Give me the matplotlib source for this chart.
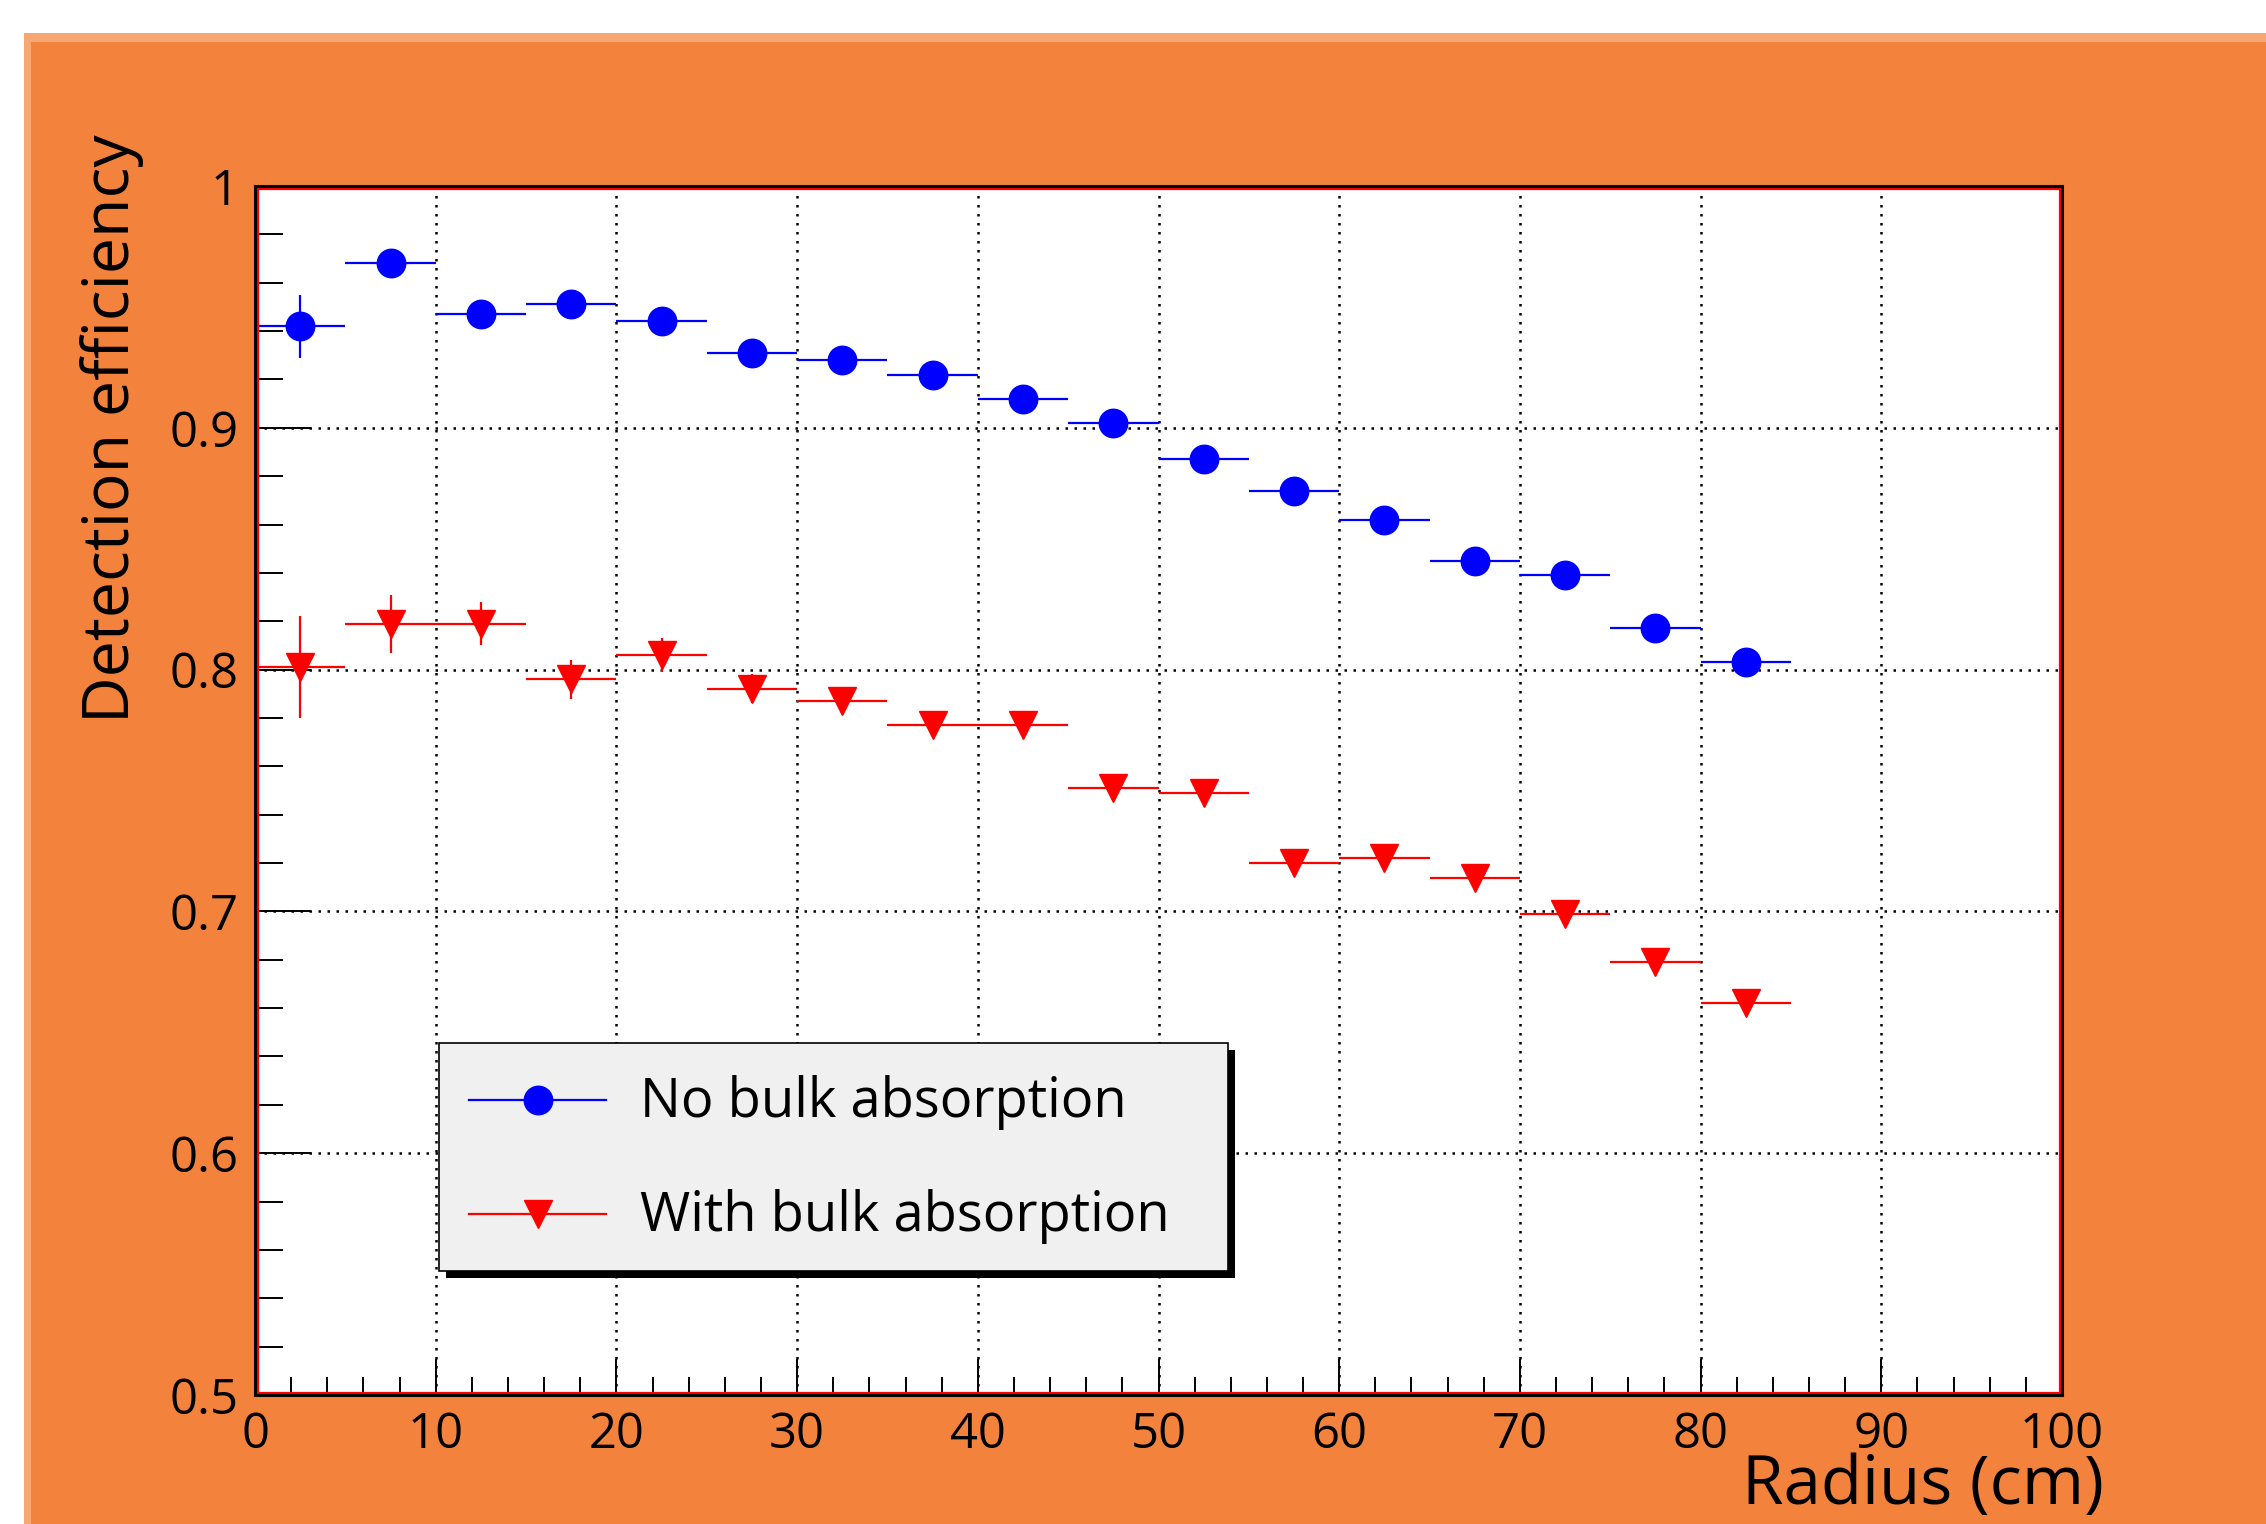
import matplotlib
matplotlib.use("Agg")
import matplotlib.pyplot as plt
from matplotlib import font_manager
from matplotlib.patches import Rectangle
from matplotlib.lines import Line2D
from matplotlib.ticker import MultipleLocator

# ---------------- data ----------------
radius_cm = [2.5, 7.5, 12.5, 17.5, 22.5, 27.5, 32.5, 37.5, 42.5,
             47.5, 52.5, 57.5, 62.5, 67.5, 72.5, 77.5, 82.5]
bin_half_width_cm = [2.5, 2.5, 2.5, 2.5, 2.5, 2.5, 2.5, 2.5, 2.5,
                     2.5, 2.5, 2.5, 2.5, 2.5, 2.5, 2.5, 2.5]
eff_no_bulk = [0.942, 0.968, 0.947, 0.951, 0.944, 0.931, 0.928, 0.922, 0.912,
               0.902, 0.887, 0.874, 0.862, 0.845, 0.839, 0.817, 0.803]
err_no_bulk = [0.013, 0.004, 0.004, 0.004, 0.004, 0.003, 0.003, 0.003, 0.003,
               0.003, 0.003, 0.003, 0.003, 0.003, 0.003, 0.003, 0.003]
eff_with_bulk = [0.801, 0.819, 0.819, 0.796, 0.806, 0.792, 0.787, 0.777, 0.777,
                 0.751, 0.749, 0.720, 0.722, 0.714, 0.699, 0.679, 0.662]
err_with_bulk = [0.021, 0.012, 0.009, 0.008, 0.007, 0.006, 0.005, 0.004, 0.004,
                 0.004, 0.004, 0.004, 0.004, 0.004, 0.004, 0.004, 0.004]
series_labels = ["No bulk absorption", "With bulk absorption"]
x_label = "Radius (cm)"
y_label = "Detection efficiency"
x_ticks = [0, 10, 20, 30, 40, 50, 60, 70, 80, 90, 100]
x_tick_labels = ["0", "10", "20", "30", "40", "50", "60", "70", "80", "90", "100"]
y_ticks = [0.5, 0.6, 0.7, 0.8, 0.9, 1.0]
y_tick_labels = ["0.5", "0.6", "0.7", "0.8", "0.9", "1"]

# ---------------- style ----------------
avail = {f.name for f in font_manager.fontManager.ttflist}
FONT = "Open Sans" if "Open Sans" in avail else "DejaVu Sans"
plt.rcParams["font.family"] = [FONT, "DejaVu Sans"]

W, H = 2266, 1524
DPI = 100
ORANGE = "#F3823D"
LIGHT = "#F6A774"
BLUE = "#0000FF"
RED = "#FF0000"

fig = plt.figure(figsize=(W / DPI, H / DPI), dpi=DPI, facecolor="white")

def fx(px):
    return px / W

def fy(py):
    return 1 - py / H

# background panels
fig.add_artist(Rectangle((fx(24), 0), 1 - fx(24), fy(33), transform=fig.transFigure,
                         facecolor=LIGHT, edgecolor="none", zorder=-20))
fig.add_artist(Rectangle((fx(31), 0), 1 - fx(31), fy(42), transform=fig.transFigure,
                         facecolor=ORANGE, edgecolor="none", zorder=-19))

# axes
L, R, T, B = 255, 2062, 186, 1395
ax = fig.add_axes([fx(L), fy(B), fx(R - L), (B - T) / H])
ax.set_facecolor("white")
ax.set_xlim(0, 100)
ax.set_ylim(0.5, 1.0)
ax.set_axisbelow(True)

ax.errorbar(radius_cm, eff_no_bulk, xerr=bin_half_width_cm, yerr=err_no_bulk,
            fmt="o", color=BLUE, ms=20.5, mec=BLUE, elinewidth=1.6, capsize=0, zorder=3)
ax.errorbar(radius_cm, eff_with_bulk, xerr=bin_half_width_cm, yerr=err_with_bulk,
            fmt="v", color=RED, ms=20.5, mec=RED, elinewidth=1.6, capsize=0, zorder=3)

ax.set_xticks(x_ticks)
ax.set_xticklabels(x_tick_labels)
ax.set_yticks(y_ticks)
ax.set_yticklabels(y_tick_labels)
ax.xaxis.set_minor_locator(MultipleLocator(2))
ax.yaxis.set_minor_locator(MultipleLocator(0.02))
ax.grid(True, which="major", color="black", linestyle=(0, (1, 2.6)), linewidth=1.8)

ax.tick_params(axis="x", which="major", direction="in", length=26, width=1.4,
               top=False, pad=11, colors="black")
ax.tick_params(axis="x", which="minor", direction="in", length=13, width=1.4, top=False)
ax.tick_params(axis="y", which="major", direction="in", length=40, width=1.4,
               right=False, pad=12, colors="black")
ax.tick_params(axis="y", which="minor", direction="in", length=20, width=1.4, right=False)

for sp in ax.spines.values():
    sp.set_color("black")
    sp.set_linewidth(2.2)
    sp.set_zorder(6)

# inner red frame line
dx, dy = 2.5 / (R - L), 2.5 / (B - T)
ax.add_patch(Rectangle((dx, dy), 1 - 2 * dx, 1 - 2 * dy, transform=ax.transAxes,
                       fill=False, edgecolor=RED, linewidth=1.6, zorder=5, clip_on=False))

# fit tick-label size to target width of "100"
fig.canvas.draw()
renderer = fig.canvas.get_renderer()
probe = fig.text(0, 0, "100", fontsize=40)
w = probe.get_window_extent(renderer).width
tick_fs = 40 * 84.0 / w
probe.remove()
ax.tick_params(axis="both", which="major", labelsize=tick_fs)

# axis titles
xt = fig.text(fx(2104), fy(1504), x_label, ha="right", va="baseline", fontsize=50)
yt = fig.text(fx(112), fy(134), y_label, ha="center", va="top", rotation=90, fontsize=50)
fig.canvas.draw()
xt.set_fontsize(50 * 362.0 / xt.get_window_extent(renderer).width)
yt.set_fontsize(50 * 589.0 / yt.get_window_extent(renderer).height)

# legend (manual, ROOT-like)
lx0, lx1, ly0, ly1 = 439, 1228, 1043, 1271
fig.add_artist(Rectangle((fx(lx0 + 7), fy(ly1 + 7)), fx(lx1 - lx0), (ly1 - ly0) / H,
                         transform=fig.transFigure, facecolor="black", edgecolor="none", zorder=7))
fig.add_artist(Rectangle((fx(lx0), fy(ly1)), fx(lx1 - lx0), (ly1 - ly0) / H,
                         transform=fig.transFigure, facecolor="#F0F0F0", edgecolor="black",
                         linewidth=1.2, zorder=8))
rows = [(1100, 1117, BLUE, "o", series_labels[0]), (1214, 1231, RED, "v", series_labels[1])]
texts = []
for yc, ybase, col, mk, lab in rows:
    fig.add_artist(Line2D([fx(469), fx(606)], [fy(yc), fy(yc)], transform=fig.transFigure,
                          color=col, linewidth=1.6, zorder=9))
    fig.add_artist(Line2D([fx(538)], [fy(yc)], transform=fig.transFigure, marker=mk,
                          color=col, ms=20.5, linestyle="none", zorder=10))
    texts.append(fig.text(fx(640), fy(ybase), lab, ha="left", va="baseline", fontsize=40, zorder=10))
fig.canvas.draw()
lw0 = texts[0].get_window_extent(renderer).width
leg_fs = 40 * 487.0 / lw0
for t in texts:
    t.set_fontsize(leg_fs)

fig.savefig("out.png", dpi=DPI, facecolor="white")
